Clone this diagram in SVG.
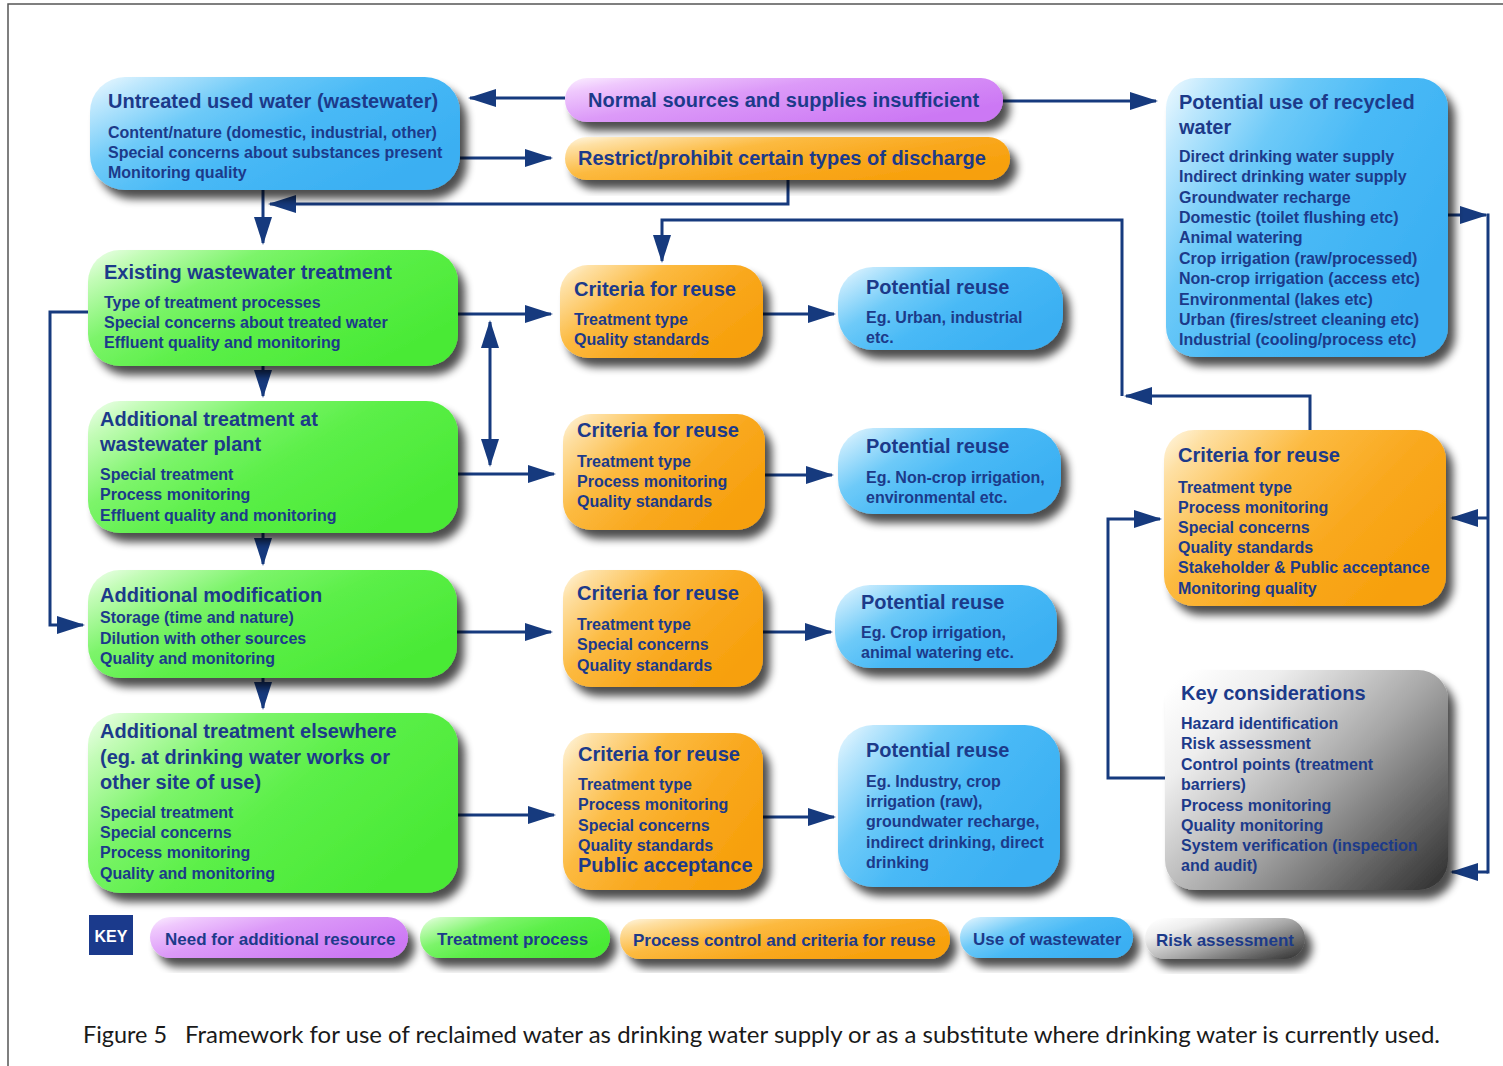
<svg xmlns="http://www.w3.org/2000/svg" width="1503" height="1066" viewBox="0 0 1503 1066">
  <style>
    .t { font-family: "Liberation Sans", Arial, Helvetica, sans-serif; font-weight: bold; fill: #1c3a8a; }
    .h { font-size: 20px; }
    .ct { font-size: 21px; }
    .b { font-size: 16px; }
    .k { font-size: 17px; }
    .c { stroke: #163a7e; stroke-width: 3; fill: none; }
    .cap { font-family: Lato, "Open Sans", "Liberation Sans", sans-serif; font-size: 24px; fill: #1a1a1a; }
  </style>
  <defs>
    <linearGradient id="gBlue" x1="0" y1="0" x2="1" y2="0.6">
      <stop offset="0" stop-color="#f0faff"/>
      <stop offset="0.12" stop-color="#bfe8fd"/>
      <stop offset="0.35" stop-color="#6ecaf8"/>
      <stop offset="0.6" stop-color="#48b9f6"/>
      <stop offset="1" stop-color="#3aaff2"/>
    </linearGradient>
    <linearGradient id="gGreen" x1="0" y1="0" x2="1" y2="0.6">
      <stop offset="0" stop-color="#f2fff0"/>
      <stop offset="0.12" stop-color="#c4fcb8"/>
      <stop offset="0.35" stop-color="#7cf46a"/>
      <stop offset="0.6" stop-color="#5bef48"/>
      <stop offset="1" stop-color="#4aea36"/>
    </linearGradient>
    <linearGradient id="gOrange" x1="0" y1="0" x2="1" y2="0.6">
      <stop offset="0" stop-color="#fff8e6"/>
      <stop offset="0.12" stop-color="#fee0a4"/>
      <stop offset="0.4" stop-color="#fcba40"/>
      <stop offset="0.7" stop-color="#f9a81e"/>
      <stop offset="1" stop-color="#f7a00c"/>
    </linearGradient>
    <linearGradient id="gPurple" x1="0" y1="0" x2="1" y2="0.6">
      <stop offset="0" stop-color="#fbf0ff"/>
      <stop offset="0.15" stop-color="#efc8fd"/>
      <stop offset="0.45" stop-color="#dc9af8"/>
      <stop offset="1" stop-color="#cc78f4"/>
    </linearGradient>
    <linearGradient id="gGray" x1="0" y1="0.1" x2="1" y2="0.9">
      <stop offset="0" stop-color="#ffffff"/>
      <stop offset="0.2" stop-color="#eeeeee"/>
      <stop offset="0.55" stop-color="#a6a6a6"/>
      <stop offset="1" stop-color="#383838"/>
    </linearGradient>
    <filter id="sh" x="-10%" y="-15%" width="130%" height="150%">
      <feGaussianBlur in="SourceAlpha" stdDeviation="4"/>
      <feOffset dx="7" dy="9" result="o"/>
      <feComponentTransfer><feFuncA type="linear" slope="0.7"/></feComponentTransfer>
      <feMerge><feMergeNode/><feMergeNode in="SourceGraphic"/></feMerge>
    </filter>
    <marker id="ah" markerUnits="userSpaceOnUse" markerWidth="30" markerHeight="20" refX="26" refY="9" orient="auto-start-reverse">
      <path d="M0,0 L28,9 L0,18 z" fill="#163a7e"/>
    </marker>
  </defs>

  <rect width="1503" height="1066" fill="#ffffff"/>
  <path d="M8,1066 L8,4 L1503,4" stroke="#555" stroke-width="1.5" fill="none"/>

  <!-- connectors -->
  <g id="connectors">
    <path class="c" d="M565,98 L470,98" marker-end="url(#ah)"/>
    <path class="c" d="M1003,101 L1156,101" marker-end="url(#ah)"/>
    <path class="c" d="M460,158 L551,158" marker-end="url(#ah)"/>
    <path class="c" d="M788,180 L788,204 L270,204" marker-end="url(#ah)"/>
    <path class="c" d="M263,190 L263,243" marker-end="url(#ah)"/>
    <path class="c" d="M263,366 L263,396" marker-end="url(#ah)"/>
    <path class="c" d="M263,533 L263,564" marker-end="url(#ah)"/>
    <path class="c" d="M263,678 L263,708" marker-end="url(#ah)"/>
    <path class="c" d="M88,312 L50,312 L50,625 L83,625" marker-end="url(#ah)"/>
    <path class="c" d="M458,314 L551,314" marker-end="url(#ah)"/>
    <path class="c" d="M490,322 L490,465" marker-start="url(#ah)" marker-end="url(#ah)"/>
    <path class="c" d="M458,474 L554,474" marker-end="url(#ah)"/>
    <path class="c" d="M457,632 L551,632" marker-end="url(#ah)"/>
    <path class="c" d="M458,815 L554,815" marker-end="url(#ah)"/>
    <path class="c" d="M763,314 L834,314" marker-end="url(#ah)"/>
    <path class="c" d="M765,475 L832,475" marker-end="url(#ah)"/>
    <path class="c" d="M763,632 L831,632" marker-end="url(#ah)"/>
    <path class="c" d="M763,817 L834,817" marker-end="url(#ah)"/>
    <path class="c" d="M1310,430 L1310,396 L1126,396" marker-end="url(#ah)"/>
    <path class="c" d="M1122,396 L1122,220 L662,220 L662,261" marker-end="url(#ah)"/>
    <path class="c" d="M1448,215 L1486,215" marker-end="url(#ah)"/>
    <path class="c" d="M1488,213.5 L1488,873.5"/>
    <path class="c" d="M1488,518 L1452,518" marker-end="url(#ah)"/>
    <path class="c" d="M1488,872 L1452,872" marker-end="url(#ah)"/>
    <path class="c" d="M1165,778 L1108,778 L1108,519 L1160,519" marker-end="url(#ah)"/>
  </g>

  <!-- top row -->
  <g id="untreated">
    <rect x="90" y="77" width="370" height="113" rx="35" fill="url(#gBlue)" filter="url(#sh)"/>
    <text class="t h" x="108" y="108">Untreated used water (wastewater)</text>
    <text class="t b" x="108" y="138">Content/nature (domestic, industrial, other)</text>
    <text class="t b" x="108" y="158">Special concerns about substances present</text>
    <text class="t b" x="108" y="178">Monitoring quality</text>
  </g>
  <g id="normal-sources">
    <rect x="565" y="78" width="438" height="44" rx="22" fill="url(#gPurple)" filter="url(#sh)"/>
    <text class="t h" x="588" y="107">Normal sources and supplies insufficient</text>
  </g>
  <g id="restrict">
    <rect x="565" y="137" width="445" height="43" rx="21.5" fill="url(#gOrange)" filter="url(#sh)"/>
    <text class="t h" x="578" y="165">Restrict/prohibit certain types of discharge</text>
  </g>
  <g id="potential-use">
    <rect x="1166" y="78" width="282" height="279" rx="30" fill="url(#gBlue)" filter="url(#sh)"/>
    <text class="t h" x="1179" y="109">Potential use of recycled</text>
    <text class="t h" x="1179" y="134">water</text>
    <text class="t b" x="1179" y="162">Direct drinking water supply</text>
    <text class="t b" x="1179" y="182">Indirect drinking water supply</text>
    <text class="t b" x="1179" y="203">Groundwater recharge</text>
    <text class="t b" x="1179" y="223">Domestic (toilet flushing etc)</text>
    <text class="t b" x="1179" y="243">Animal watering</text>
    <text class="t b" x="1179" y="264">Crop irrigation (raw/processed)</text>
    <text class="t b" x="1179" y="284">Non-crop irrigation (access etc)</text>
    <text class="t b" x="1179" y="305">Environmental (lakes etc)</text>
    <text class="t b" x="1179" y="325">Urban (fires/street cleaning etc)</text>
    <text class="t b" x="1179" y="345">Industrial (cooling/process etc)</text>
  </g>

  <!-- treatment column -->
  <g id="existing-treatment">
    <rect x="88" y="250" width="370" height="116" rx="32" fill="url(#gGreen)" filter="url(#sh)"/>
    <text class="t h" x="104" y="279">Existing wastewater treatment</text>
    <text class="t b" x="104" y="308">Type of treatment processes</text>
    <text class="t b" x="104" y="328">Special concerns about treated water</text>
    <text class="t b" x="104" y="348">Effluent quality and monitoring</text>
  </g>
  <g id="additional-treatment-plant">
    <rect x="88" y="401" width="370" height="132" rx="32" fill="url(#gGreen)" filter="url(#sh)"/>
    <text class="t h" x="100" y="426">Additional treatment at</text>
    <text class="t h" x="100" y="451">wastewater plant</text>
    <text class="t b" x="100" y="480">Special treatment</text>
    <text class="t b" x="100" y="500">Process monitoring</text>
    <text class="t b" x="100" y="521">Effluent quality and monitoring</text>
  </g>
  <g id="additional-modification">
    <rect x="88" y="570" width="369" height="108" rx="32" fill="url(#gGreen)" filter="url(#sh)"/>
    <text class="t h" x="100" y="602">Additional modification</text>
    <text class="t b" x="100" y="623">Storage (time and nature)</text>
    <text class="t b" x="100" y="644">Dilution with other sources</text>
    <text class="t b" x="100" y="664">Quality and monitoring</text>
  </g>
  <g id="treatment-elsewhere">
    <rect x="88" y="713" width="370" height="180" rx="32" fill="url(#gGreen)" filter="url(#sh)"/>
    <text class="t h" x="100" y="738">Additional treatment elsewhere</text>
    <text class="t h" x="100" y="764">(eg. at drinking water works or</text>
    <text class="t h" x="100" y="789">other site of use)</text>
    <text class="t b" x="100" y="818">Special treatment</text>
    <text class="t b" x="100" y="838">Special concerns</text>
    <text class="t b" x="100" y="858">Process monitoring</text>
    <text class="t b" x="100" y="879">Quality and monitoring</text>
  </g>

  <!-- criteria column -->
  <g id="criteria-1">
    <rect x="560" y="265" width="203" height="93" rx="28" fill="url(#gOrange)" filter="url(#sh)"/>
    <text class="t ct" x="574" y="296" textLength="162" lengthAdjust="spacingAndGlyphs">Criteria for reuse</text>
    <text class="t b" x="574" y="325">Treatment type</text>
    <text class="t b" x="574" y="345">Quality standards</text>
  </g>
  <g id="criteria-2">
    <rect x="563" y="414" width="202" height="116" rx="28" fill="url(#gOrange)" filter="url(#sh)"/>
    <text class="t ct" x="577" y="437" textLength="162" lengthAdjust="spacingAndGlyphs">Criteria for reuse</text>
    <text class="t b" x="577" y="467">Treatment type</text>
    <text class="t b" x="577" y="487">Process monitoring</text>
    <text class="t b" x="577" y="507">Quality standards</text>
  </g>
  <g id="criteria-3">
    <rect x="563" y="570" width="200" height="117" rx="28" fill="url(#gOrange)" filter="url(#sh)"/>
    <text class="t ct" x="577" y="600" textLength="162" lengthAdjust="spacingAndGlyphs">Criteria for reuse</text>
    <text class="t b" x="577" y="630">Treatment type</text>
    <text class="t b" x="577" y="650">Special concerns</text>
    <text class="t b" x="577" y="671">Quality standards</text>
  </g>
  <g id="criteria-4">
    <rect x="563" y="733" width="200" height="157" rx="28" fill="url(#gOrange)" filter="url(#sh)"/>
    <text class="t ct" x="578" y="761" textLength="162" lengthAdjust="spacingAndGlyphs">Criteria for reuse</text>
    <text class="t b" x="578" y="790">Treatment type</text>
    <text class="t b" x="578" y="810">Process monitoring</text>
    <text class="t b" x="578" y="831">Special concerns</text>
    <text class="t b" x="578" y="851">Quality standards</text>
    <text class="t h" x="578" y="872">Public acceptance</text>
  </g>

  <!-- potential reuse column -->
  <g id="reuse-1">
    <rect x="838" y="267" width="225" height="83" rx="35" fill="url(#gBlue)" filter="url(#sh)"/>
    <text class="t h" x="866" y="294">Potential reuse</text>
    <text class="t b" x="866" y="323">Eg. Urban, industrial</text>
    <text class="t b" x="866" y="343">etc.</text>
  </g>
  <g id="reuse-2">
    <rect x="838" y="428" width="223" height="86" rx="35" fill="url(#gBlue)" filter="url(#sh)"/>
    <text class="t h" x="866" y="453">Potential reuse</text>
    <text class="t b" x="866" y="483">Eg. Non-crop irrigation,</text>
    <text class="t b" x="866" y="503">environmental etc.</text>
  </g>
  <g id="reuse-3">
    <rect x="835" y="585" width="222" height="83" rx="35" fill="url(#gBlue)" filter="url(#sh)"/>
    <text class="t h" x="861" y="609">Potential reuse</text>
    <text class="t b" x="861" y="638">Eg. Crop irrigation,</text>
    <text class="t b" x="861" y="658">animal watering etc.</text>
  </g>
  <g id="reuse-4">
    <rect x="838" y="725" width="222" height="162" rx="35" fill="url(#gBlue)" filter="url(#sh)"/>
    <text class="t h" x="866" y="757">Potential reuse</text>
    <text class="t b" x="866" y="787">Eg. Industry, crop</text>
    <text class="t b" x="866" y="807">irrigation (raw),</text>
    <text class="t b" x="866" y="827">groundwater recharge,</text>
    <text class="t b" x="866" y="848">indirect drinking, direct</text>
    <text class="t b" x="866" y="868">drinking</text>
  </g>

  <!-- right column -->
  <g id="criteria-main">
    <rect x="1164" y="430" width="282" height="176" rx="30" fill="url(#gOrange)" filter="url(#sh)"/>
    <text class="t ct" x="1178" y="462" textLength="162" lengthAdjust="spacingAndGlyphs">Criteria for reuse</text>
    <text class="t b" x="1178" y="493">Treatment type</text>
    <text class="t b" x="1178" y="513">Process monitoring</text>
    <text class="t b" x="1178" y="533">Special concerns</text>
    <text class="t b" x="1178" y="553">Quality standards</text>
    <text class="t b" x="1178" y="573">Stakeholder &amp; Public acceptance</text>
    <text class="t b" x="1178" y="594">Monitoring quality</text>
  </g>
  <g id="key-considerations">
    <rect x="1165" y="670" width="283" height="220" rx="30" fill="url(#gGray)" filter="url(#sh)"/>
    <text class="t h" x="1181" y="700">Key considerations</text>
    <text class="t b" x="1181" y="729">Hazard identification</text>
    <text class="t b" x="1181" y="749">Risk assessment</text>
    <text class="t b" x="1181" y="770">Control points (treatment</text>
    <text class="t b" x="1181" y="790">barriers)</text>
    <text class="t b" x="1181" y="811">Process monitoring</text>
    <text class="t b" x="1181" y="831">Quality monitoring</text>
    <text class="t b" x="1181" y="851">System verification (inspection</text>
    <text class="t b" x="1181" y="871">and audit)</text>
  </g>

  <!-- legend -->
  <g id="key">
    <rect x="89" y="915" width="44" height="40" fill="#1b3a8c"/>
    <text class="t" x="111" y="942" font-size="16" text-anchor="middle" style="fill:#ffffff">KEY</text>
    <rect x="150" y="917" width="258" height="41" rx="20.5" fill="url(#gPurple)" filter="url(#sh)"/>
    <text class="t k" x="165" y="945">Need for additional resource</text>
    <rect x="420" y="917" width="190" height="41" rx="20.5" fill="url(#gGreen)" filter="url(#sh)"/>
    <text class="t k" x="437" y="945">Treatment process</text>
    <rect x="620" y="919" width="330" height="40" rx="20" fill="url(#gOrange)" filter="url(#sh)"/>
    <text class="t k" x="633" y="946">Process control and criteria for reuse</text>
    <rect x="960" y="917" width="173" height="41" rx="20.5" fill="url(#gBlue)" filter="url(#sh)"/>
    <text class="t k" x="973" y="945">Use of wastewater</text>
    <rect x="1145" y="918" width="160" height="41" rx="20.5" fill="url(#gGray)" filter="url(#sh)"/>
    <text class="t k" x="1156" y="946">Risk assessment</text>
  </g>

  <g id="caption">
    <text class="cap" x="83" y="1043" textLength="84" lengthAdjust="spacingAndGlyphs">Figure 5</text>
    <text class="cap" x="185" y="1043" textLength="1255" lengthAdjust="spacingAndGlyphs">Framework for use of reclaimed water as drinking water supply or as a substitute where drinking water is currently used.</text>
  </g>
</svg>
